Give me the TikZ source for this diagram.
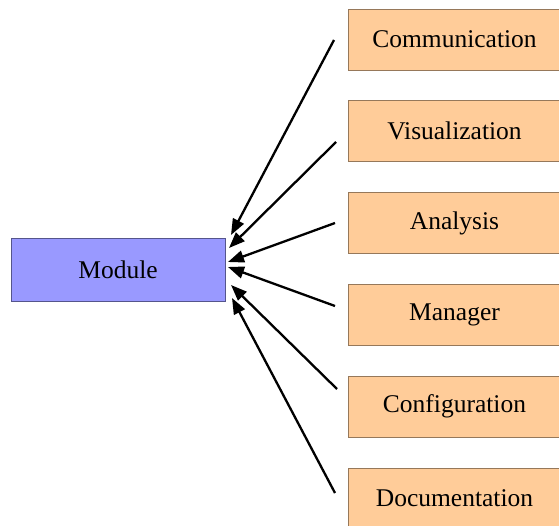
\documentclass[tikz,border=0pt]{standalone}
\usepackage{fontspec}
\setmainfont{Liberation Serif}
\usetikzlibrary{arrows.meta}
\definecolor{modfill}{RGB}{153,153,255}
\definecolor{modline}{RGB}{85,85,140}
\definecolor{partfill}{RGB}{255,204,153}
\definecolor{partline}{RGB}{150,120,90}
\tikzset{
  modbox/.style={draw=modline, line width=0.9pt, fill=modfill,
    minimum width=214pt, minimum height=63pt, inner sep=0pt,
    font=\fontsize{25.5}{30}\selectfont},
  partbox/.style={draw=partline, line width=0.9pt, fill=partfill,
    minimum width=213pt, minimum height=61pt, inner sep=0pt,
    font=\fontsize{25.5}{30}\selectfont},
  feed/.style={line width=2.3pt, -{Triangle[length=16pt,width=12pt]}},
}
\begin{document}
\begin{tikzpicture}[x=1pt,y=-1pt]
  \useasboundingbox (0,0) rectangle (559,526);
  \clip (0,0) rectangle (559,526);
  % central module
  \node[modbox] (module) at (118,269.5) {Module};
  % surrounding components
  \node[partbox] (comm) at (454.5,39.5)  {Communication};
  \node[partbox] (vis)  at (454.5,131.3) {Visualization};
  \node[partbox] (ana)  at (454.5,223.1) {Analysis};
  \node[partbox] (man)  at (454.5,314.9) {Manager};
  \node[partbox] (conf) at (454.5,406.7) {Configuration};
  \node[partbox] (doc)  at (454.5,498.5) {Documentation};
  % arrow tails, just left of each component
  \coordinate (s1) at (334,40);
  \coordinate (s2) at (336,142);
  \coordinate (s3) at (335,223);
  \coordinate (s4) at (335,306);
  \coordinate (s5) at (337,389);
  \coordinate (s6) at (335,493);
  % arrow tips, fanned around the module's east side
  \coordinate (t1) at (231,235);
  \coordinate (t2) at (229,248);
  \coordinate (t3) at (228,262);
  \coordinate (t4) at (228,267);
  \coordinate (t5) at (231,285);
  \coordinate (t6) at (232,298);
  \foreach \i in {1,...,6} {
    \draw[feed] (s\i) -- (t\i);
  }
\end{tikzpicture}
\end{document}
